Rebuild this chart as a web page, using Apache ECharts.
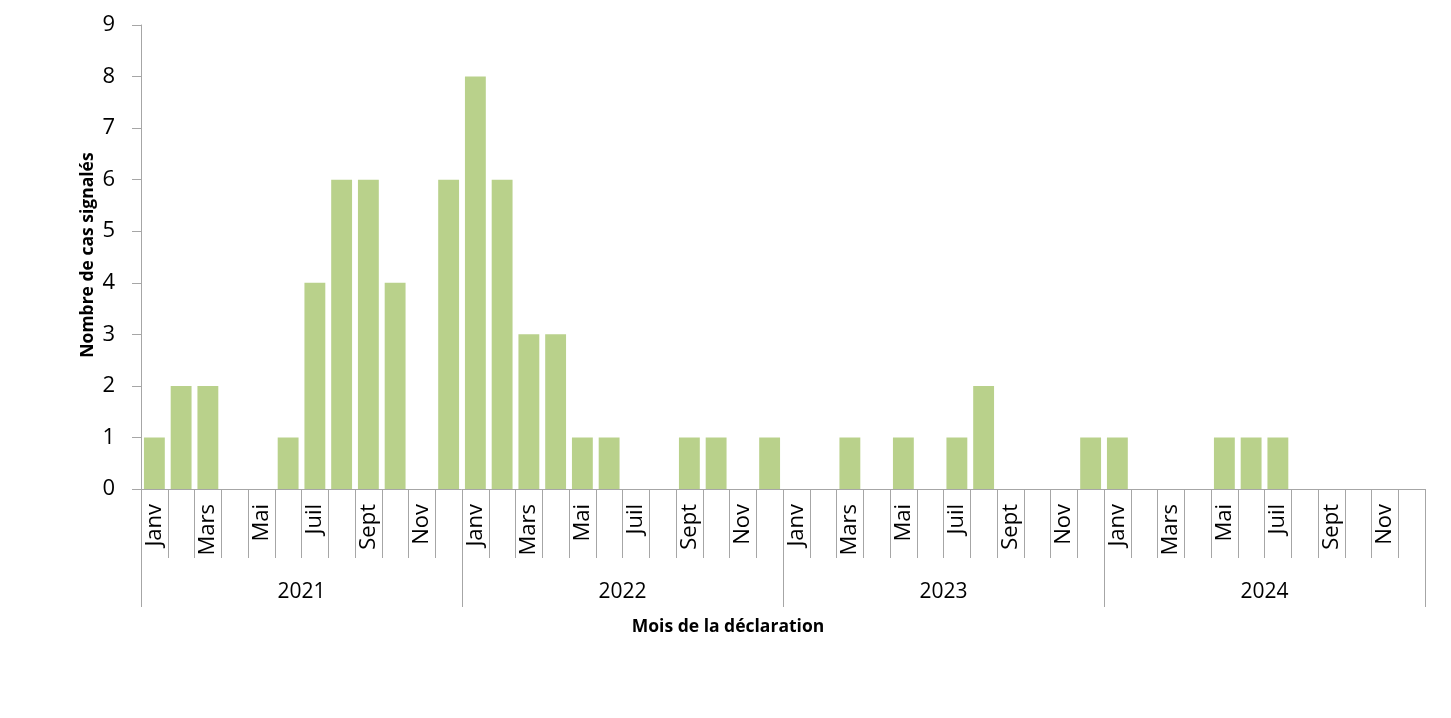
<!DOCTYPE html>
<html><head><meta charset="utf-8">
<script src="https://cdn.jsdelivr.net/npm/echarts@6/dist/echarts.min.js"></script>
<style>html,body{margin:0;padding:0;background:#fff}#c{width:1451px;height:718px}</style>
</head><body><div id="c"></div>
<script>
const monthNames = ['Janv','Févr','Mars','Avr','Mai','Juin','Juil','Août','Sept','Oct','Nov','Déc'];
const years = ['2021','2022','2023','2024'];
const values2021 = [1,2,2,0,0,1,4,6,6,4,0,6];
const values2022 = [8,6,3,3,1,1,0,0,1,1,0,1];
const values2023 = [0,0,1,0,1,0,1,2,0,0,0,1];
const values2024 = [1,0,0,0,1,1,1,0,0,0,0,0];
const yTicks = [0,1,2,3,4,5,6,7,8,9];

const months = [];
years.forEach(y => monthNames.forEach(m => months.push(m)));
const values = [].concat(values2021, values2022, values2023, values2024);

const font = "'Open Sans', 'Liberation Sans', sans-serif";
const chart = echarts.init(document.getElementById('c'));
chart.setOption({
  animation: false,
  grid: {left: 141, right: 26, top: 25, bottom: 229},
  xAxis: [{
    type: 'category', data: months, position: 'bottom',
    axisLine: {show: true, lineStyle: {color: '#a6a6a6', width: 1}},
    axisTick: {show: true, interval: 0, length: 69, lineStyle: {color: '#a6a6a6'}},
    axisLabel: {interval: 1, rotate: 90, margin: 15, fontSize: 22, color: '#000', fontFamily: font}
  }, {
    type: 'category', data: years, position: 'bottom',
    axisLine: {show: false},
    axisTick: {show: true, interval: 0, length: 118, lineStyle: {color: '#a6a6a6'}},
    axisLabel: {interval: 0, margin: 93, fontSize: 21, color: '#000', fontFamily: font}
  }],
  yAxis: {
    type: 'value', min: yTicks[0], max: yTicks[yTicks.length-1], interval: 1,
    axisLine: {show: true, lineStyle: {color: '#a6a6a6'}},
    axisTick: {show: true, length: 9, lineStyle: {color: '#a6a6a6'}},
    axisLabel: {fontSize: 22, color: '#000', margin: 26, fontFamily: font},
    splitLine: {show: false}
  },
  graphic: [{
    type: 'text', x: 728, y: 627,
    style: {text: 'Mois de la déclaration', fontSize: 17.5, fontWeight: 'bold', fill: '#000',
            fontFamily: font, textAlign: 'center', textVerticalAlign: 'middle'}
  }, {
    type: 'text', x: 88, y: 255, rotation: Math.PI / 2,
    style: {text: 'Nombre de cas signalés', fontSize: 17.5, fontWeight: 'bold', fill: '#000',
            fontFamily: font, textAlign: 'center', textVerticalAlign: 'middle'}
  }],
  series: [{
    type: 'bar', xAxisIndex: 0, data: values,
    barCategoryGap: '22%',
    itemStyle: {color: '#B9D18B'}
  }]
});
</script></body></html>
